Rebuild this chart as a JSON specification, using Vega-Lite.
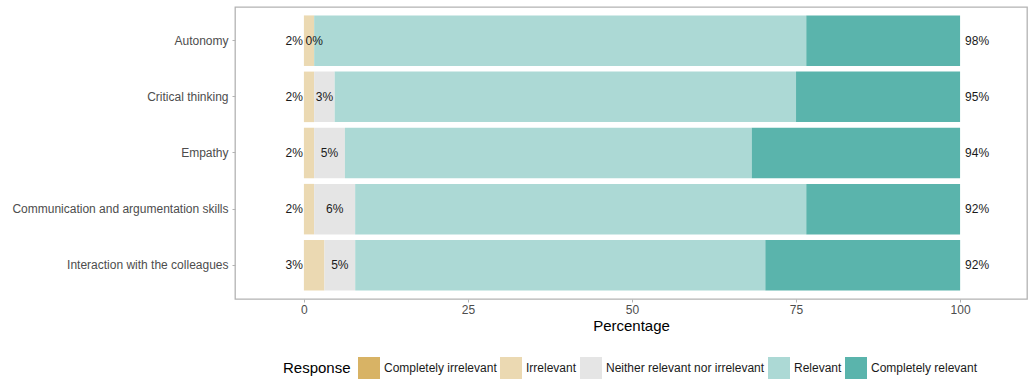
{
  "$schema": "https://vega.github.io/schema/vega-lite/v6.json",
  "width": 792,
  "height": 292,
  "autosize": {"type": "none"},
  "padding": {"left": 235, "top": 7, "right": 7, "bottom": 90},
  "config": {
    "font": "Liberation Sans",
    "view": {"stroke": "#b3b3b3", "strokeWidth": 1.3},
    "axis": {"grid": false, "domain": false, "tickColor": "#b3b3b3", "tickSize": 3, "labelFontSize": 12, "labelColor": "#4d4d4d"}
  },
  "datasets": {
    "segments": [
      {"item": "Autonomy", "Response": "Completely irrelevant", "level": 1, "pct": 0, "label": ""},
      {"item": "Autonomy", "Response": "Irrelevant", "level": 2, "pct": 1.56, "label": ""},
      {"item": "Autonomy", "Response": "Neither relevant nor irrelevant", "level": 3, "pct": 0, "label": "0%"},
      {"item": "Autonomy", "Response": "Relevant", "level": 4, "pct": 75.0, "label": ""},
      {"item": "Autonomy", "Response": "Completely relevant", "level": 5, "pct": 23.44, "label": ""},
      {"item": "Critical thinking", "Response": "Completely irrelevant", "level": 1, "pct": 0, "label": ""},
      {"item": "Critical thinking", "Response": "Irrelevant", "level": 2, "pct": 1.56, "label": ""},
      {"item": "Critical thinking", "Response": "Neither relevant nor irrelevant", "level": 3, "pct": 3.13, "label": "3%"},
      {"item": "Critical thinking", "Response": "Relevant", "level": 4, "pct": 70.31, "label": ""},
      {"item": "Critical thinking", "Response": "Completely relevant", "level": 5, "pct": 25.0, "label": ""},
      {"item": "Empathy", "Response": "Completely irrelevant", "level": 1, "pct": 0, "label": ""},
      {"item": "Empathy", "Response": "Irrelevant", "level": 2, "pct": 1.56, "label": ""},
      {"item": "Empathy", "Response": "Neither relevant nor irrelevant", "level": 3, "pct": 4.69, "label": "5%"},
      {"item": "Empathy", "Response": "Relevant", "level": 4, "pct": 62.0, "label": ""},
      {"item": "Empathy", "Response": "Completely relevant", "level": 5, "pct": 31.75, "label": ""},
      {"item": "Communication and argumentation skills", "Response": "Completely irrelevant", "level": 1, "pct": 0, "label": ""},
      {"item": "Communication and argumentation skills", "Response": "Irrelevant", "level": 2, "pct": 1.56, "label": ""},
      {"item": "Communication and argumentation skills", "Response": "Neither relevant nor irrelevant", "level": 3, "pct": 6.25, "label": "6%"},
      {"item": "Communication and argumentation skills", "Response": "Relevant", "level": 4, "pct": 68.75, "label": ""},
      {"item": "Communication and argumentation skills", "Response": "Completely relevant", "level": 5, "pct": 23.44, "label": ""},
      {"item": "Interaction with the colleagues", "Response": "Completely irrelevant", "level": 1, "pct": 0, "label": ""},
      {"item": "Interaction with the colleagues", "Response": "Irrelevant", "level": 2, "pct": 3.13, "label": ""},
      {"item": "Interaction with the colleagues", "Response": "Neither relevant nor irrelevant", "level": 3, "pct": 4.69, "label": "5%"},
      {"item": "Interaction with the colleagues", "Response": "Relevant", "level": 4, "pct": 62.5, "label": ""},
      {"item": "Interaction with the colleagues", "Response": "Completely relevant", "level": 5, "pct": 29.69, "label": ""}
    ],
    "labels": [
      {"item": "Autonomy", "low": "2%", "high": "98%"},
      {"item": "Critical thinking", "low": "2%", "high": "95%"},
      {"item": "Empathy", "low": "2%", "high": "94%"},
      {"item": "Communication and argumentation skills", "low": "2%", "high": "92%"},
      {"item": "Interaction with the colleagues", "low": "3%", "high": "92%"}
    ]
  },
  "encoding": {
    "y": {
      "field": "item", "type": "nominal", "title": null,
      "sort": ["Autonomy", "Critical thinking", "Empathy", "Communication and argumentation skills", "Interaction with the colleagues"],
      "scale": {"paddingInner": 0.1, "paddingOuter": 0.15},
      "axis": {"labelPadding": 4, "labelLimit": 0}
    }
  },
  "layer": [
    {
      "data": {"name": "segments"},
      "mark": {"type": "bar"},
      "encoding": {
        "x": {
          "field": "pct", "type": "quantitative", "stack": "zero", "title": "Percentage",
          "scale": {"domain": [-10.5, 110.2], "nice": false, "zero": false},
          "axis": {"values": [0, 25, 50, 75, 100], "labelPadding": 2, "titleFontSize": 15, "titleFontWeight": "normal", "titleColor": "#000000", "titlePadding": 3}
        },
        "order": {"field": "level", "type": "quantitative"},
        "color": {
          "field": "Response", "type": "nominal",
          "scale": {
            "domain": ["Completely irrelevant", "Irrelevant", "Neither relevant nor irrelevant", "Relevant", "Completely relevant"],
            "range": ["#D8B365", "#EBD9B2", "#E5E5E5", "#ACD9D5", "#5AB4AC"]
          },
          "legend": {
            "orient": "none", "legendX": 48, "legendY": 350, "direction": "horizontal",
            "title": "Response", "titleOrient": "left", "titleFontSize": 15, "titleFontWeight": "normal", "titleColor": "#000000", "titlePadding": 7, "titleBaseline": "middle",
            "symbolType": "square", "symbolSize": 484, "symbolStrokeWidth": 0, "symbolOpacity": 1,
            "labelFontSize": 12, "labelColor": "#1a1a1a", "labelOffset": 4, "columnPadding": 3
          }
        }
      }
    },
    {
      "data": {"name": "segments"},
      "transform": [
        {"stack": "pct", "groupby": ["item"], "sort": [{"field": "level"}], "as": ["s0", "s1"]},
        {"filter": "datum.level == 3"},
        {"fold": ["s0", "s1"], "as": ["edge", "v"]},
        {"aggregate": [{"op": "mean", "field": "v", "as": "mid"}], "groupby": ["item", "label"]}
      ],
      "mark": {"type": "text", "align": "center", "baseline": "middle", "fontSize": 12, "color": "#1a1a1a"},
      "encoding": {
        "x": {"field": "mid", "type": "quantitative"},
        "text": {"field": "label"}
      }
    },
    {
      "data": {"name": "labels"},
      "mark": {"type": "text", "align": "right", "baseline": "middle", "dx": -1, "fontSize": 12, "color": "#1a1a1a"},
      "encoding": {
        "x": {"datum": 0, "type": "quantitative"},
        "text": {"field": "low"}
      }
    },
    {
      "data": {"name": "labels"},
      "mark": {"type": "text", "align": "left", "baseline": "middle", "dx": 5, "fontSize": 12, "color": "#1a1a1a"},
      "encoding": {
        "x": {"datum": 100, "type": "quantitative"},
        "text": {"field": "high"}
      }
    }
  ]
}
